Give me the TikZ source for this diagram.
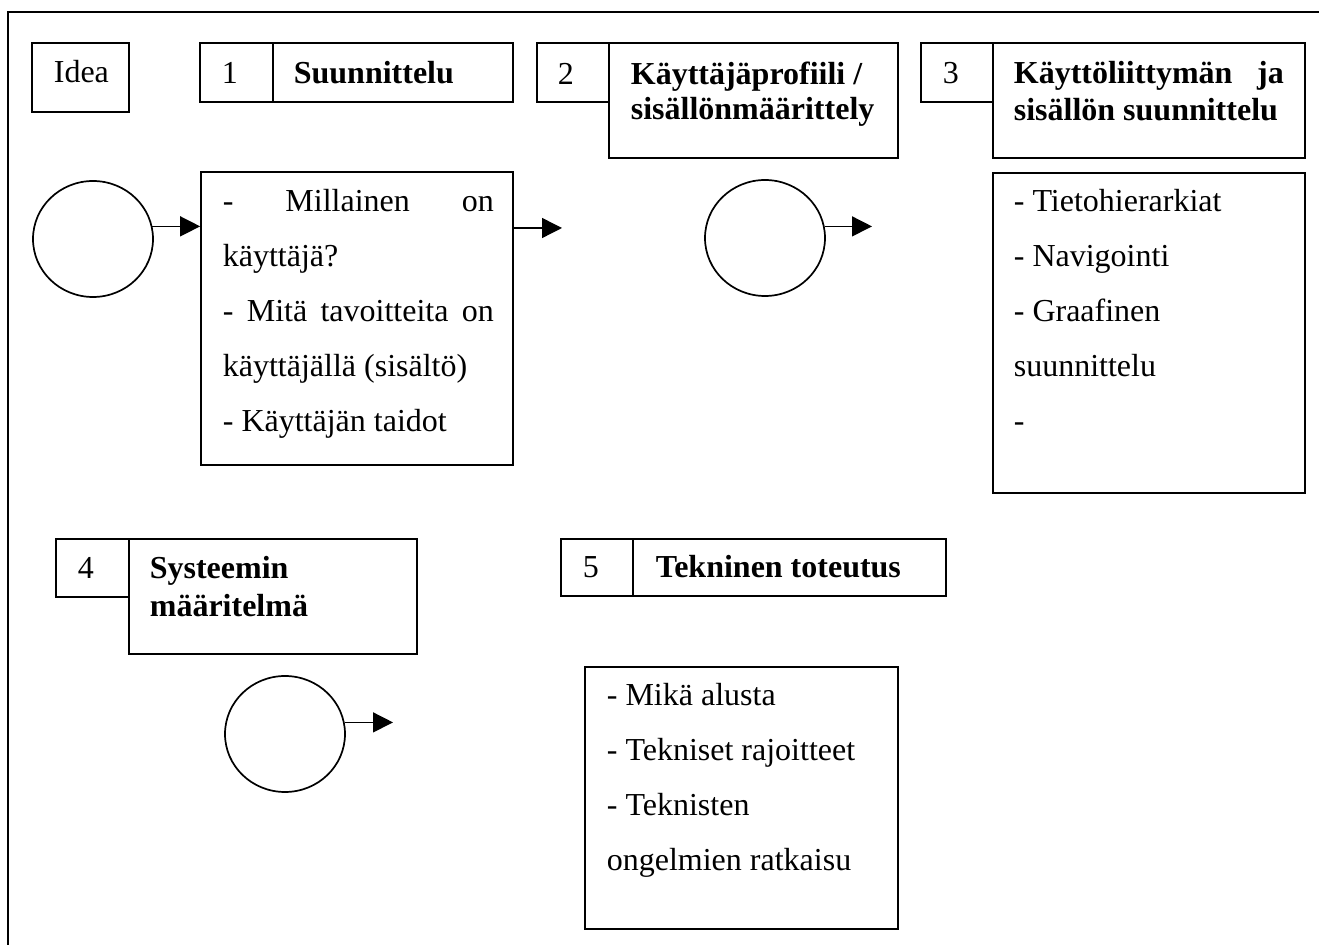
\documentclass[tikz,border=0pt]{standalone}
\usepackage{fontspec}
\setmainfont{Liberation Serif}
\usetikzlibrary{shapes.geometric,arrows.meta,fit}
\newcommand{\bodytext}[2]{\parbox[t]{#1}{\fontsize{16pt}{27.5pt}\selectfont\parindent0pt #2}}
\newcommand{\titletext}[3]{\parbox[t]{#1}{\fontsize{16pt}{#2}\selectfont\bfseries\parindent0pt #3}}
\begin{document}
\begin{tikzpicture}[x=0.5pt,y=-0.5pt, line width=0.85pt,
  box/.style={draw, rectangle, inner sep=0pt},
  circ/.style={draw, ellipse, inner sep=0pt, minimum width=60pt, minimum height=58pt},
  arr/.style={line width=0.7pt, -{Triangle[length=10pt,width=10pt]}},
  txt/.style={inner sep=0pt, anchor=base west, font=\fontsize{16pt}{18pt}\selectfont},
  ttl/.style={txt, font=\fontsize{16pt}{18pt}\selectfont\bfseries}]
\useasboundingbox (0,0) rectangle (1319,945);
\draw (8,945) -- (8,12) -- (1319,12);
% boxes
\node[box, fit={(32,43)(129,112)}] (idea) {};
\node[box, fit={(200,43)(273,102)}] (n1) {};
\node[box, fit={(273,43)(513,102)}] (t1) {};
\node[box, fit={(201,172)(513,465)}] (b1c) {};
\node[box, fit={(537,43)(609,102)}] (n2) {};
\node[box, fit={(609,43)(898,158)}] (t2) {};
\node[box, fit={(921,43)(993,102)}] (n3) {};
\node[box, fit={(993,43)(1305,158)}] (t3) {};
\node[box, fit={(993,173)(1305,493)}] (b3c) {};
\node[box, fit={(56,539)(129,597)}] (n4) {};
\node[box, fit={(129,539)(417,654)}] (t4) {};
\node[box, fit={(561,539)(633,596)}] (n5) {};
\node[box, fit={(633,539)(946,596)}] (t5) {};
\node[box, fit={(585,667)(898,929)}] (b5c) {};
% circles
\node[circ] (c1) at (93,239) {};
\node[circ] (c2) at (765,238) {};
\node[circ] (c4) at (285,734) {};
% texts
\node[txt] (ideatxt) at (53,83) {Idea};
\node[txt] (n1txt) at (221,84) {1};
\node[ttl] (t1txt) at (293,84) {Suunnittelu};
\node[txt] (n2txt) at (557,85) {2};
\node[txt] (t2txt) at (630,85) {\titletext{140pt}{17.5pt}{Käyttäjäprofiili /\\sisällönmäärittely}};
\node[txt] (n3txt) at (942,84) {3};
\node[txt] (t3txt) at (1013,84) {\titletext{135pt}{18.5pt}{Käyttöliittymän ja\linebreak sisällön suunnittelu}};
\node[txt] (n4txt) at (77,579) {4};
\node[txt] (t4txt) at (149,579) {\titletext{130pt}{19pt}{Systeemin\\määritelmä}};
\node[txt] (n5txt) at (582,578) {5};
\node[ttl] (t5txt) at (655,578) {Tekninen toteutus};
\node[txt] (b1txt) at (222,212) {\bodytext{135.5pt}{- Millainen on\linebreak käyttäjä?\\- Mitä tavoitteita on\linebreak käyttäjällä (sisältö)\\- Käyttäjän taidot}};
\node[txt] (b3txt) at (1013,212) {\bodytext{140pt}{- Tietohierarkiat\\- Navigointi\\- Graafinen\\suunnittelu\\-}};
\node[txt] (b5txt) at (606,706) {\bodytext{140pt}{- Mikä alusta\\- Tekniset rajoitteet\\- Teknisten\\ongelmien ratkaisu}};
% arrows
\coordinate (a1) at (562,228);
\coordinate (a2) at (872,227);
\coordinate (a4) at (393,723);
\draw[arr] (c1.12) -- (c1.12 -| b1c.west);
\draw[arr] (a1 -| b1c.east) -- (a1);
\draw[arr] (c2.11) -- (c2.11 -| a2);
\draw[arr] (c4.11) -- (c4.11 -| a4);
\end{tikzpicture}
\end{document}
